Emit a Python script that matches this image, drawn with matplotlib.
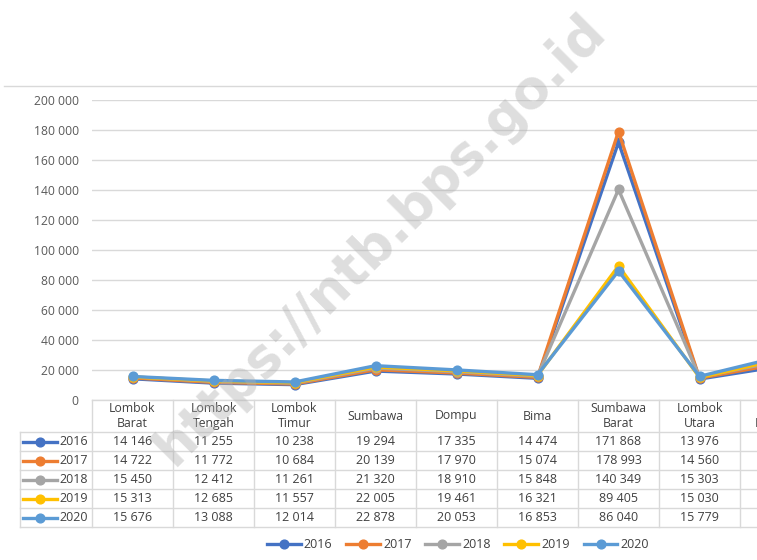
import matplotlib
matplotlib.use("Agg")
import matplotlib.pyplot as plt
import matplotlib.transforms as mtransforms
from matplotlib.lines import Line2D

# Data
regions = ["Lombok\nBarat", "Lombok\nTengah", "Lombok\nTimur", "Sumbawa", "Dompu",
           "Bima", "Sumbawa\nBarat", "Lombok\nUtara", "Kota\nMataram"]
years = ["2016", "2017", "2018", "2019", "2020"]
v2016 = [14146, 11255, 10238, 19294, 17335, 14474, 171868, 13976, 22500]
v2017 = [14722, 11772, 10684, 20139, 17970, 15074, 178993, 14560, 24300]
v2018 = [15450, 12412, 11261, 21320, 18910, 15848, 140349, 15303, 26000]
v2019 = [15313, 12685, 11557, 22005, 19461, 16321, 89405, 15030, 27200]
v2020 = [15676, 13088, 12014, 22878, 20053, 16853, 86040, 15779, 28900]
series = [v2016, v2017, v2018, v2019, v2020]
colors = ["#4472C4", "#ED7D31", "#A5A5A5", "#FFC000", "#5B9BD5"]
yticks = [0, 20000, 40000, 60000, 80000, 100000, 120000, 140000, 160000, 180000, 200000]

W, H = 757, 560
font = "Open Sans"
grid_col = "#d9d9d9"
txt_col = "#404040"

fig = plt.figure(figsize=(W / 100, H / 100), dpi=100)
fig.patch.set_facecolor("white")

# Plot area (extends past the right edge, as in the source crop)
ax = fig.add_axes([92 / W, 1 - 400 / H, 9 * 81 / W, 300 / H])
ax.set_xlim(-0.5, len(regions) - 0.5)
ax.set_ylim(0, 200000)
ax.set_yticks(yticks)
ax.set_yticklabels([f"{v:,}".replace(",", " ") for v in yticks],
                   fontsize=8.7, color="#595959", fontfamily=font)
ax.tick_params(axis="y", length=0, pad=9.5)
ax.set_xticks([])
for s in ax.spines.values():
    s.set_visible(False)
ax.grid(axis="y", color=grid_col, lw=1)
ax.set_axisbelow(True)

x = list(range(len(regions)))
for i, (vals, c, yr) in enumerate(zip(series, colors, years)):
    ax.plot(x, vals, color=c, lw=2.4, marker="o", ms=6.3, label=yr, zorder=3 + i,
            clip_on=False)

# Data table under the plot
tr = mtransforms.blended_transform_factory(ax.transData, ax.transAxes)

def ay(py):
    return (400 - py) / 300

left_x = -0.5 - 72 / 81
row_lines = [432.3, 451.3, 470.3, 489.3, 508.3, 527.3]
ax.add_line(Line2D([-0.5, len(regions) - 0.5], [0, 0], transform=tr,
                   color=grid_col, lw=1, clip_on=False))
for py in row_lines:
    ax.add_line(Line2D([left_x, len(regions) - 0.5], [ay(py)] * 2, transform=tr,
                       color=grid_col, lw=1, clip_on=False))
for i in range(len(regions) + 1):
    ax.add_line(Line2D([i - 0.5] * 2, [0, ay(527.3)], transform=tr,
                       color=grid_col, lw=1, clip_on=False))
ax.add_line(Line2D([left_x] * 2, [ay(432.3), ay(527.3)], transform=tr,
                   color=grid_col, lw=1, clip_on=False))

for i, name in enumerate(regions):
    ax.text(i, ay(416), name, transform=tr, ha="center", va="center",
            fontsize=8.8, color=txt_col, fontfamily=font, linespacing=1.2,
            clip_on=False)

for r, (vals, c, yr) in enumerate(zip(series, colors, years)):
    cy = ay((row_lines[r] + row_lines[r + 1]) / 2)
    for i, v in enumerate(vals):
        ax.text(i, cy, f"{v:,}".replace(",", " "), transform=tr, ha="center",
                va="center", fontsize=9, color=txt_col, fontfamily=font)
    kx0 = -0.5 - 69 / 81
    kx1 = -0.5 - 35 / 81
    ax.add_line(Line2D([kx0, kx1], [cy, cy], transform=tr, color=c, lw=2.4,
                       clip_on=False))
    ax.add_line(Line2D([(kx0 + kx1) / 2], [cy], transform=tr, color=c, marker="o",
                       ms=6.3, clip_on=False))
    ax.text(-0.5 - 33 / 81, cy, yr, transform=tr, ha="left", va="center",
            fontsize=9, color=txt_col, fontfamily=font)

# Legend at the bottom
fig.legend(loc="center", bbox_to_anchor=(458 / W, 1 - 545 / H), ncol=5,
           frameon=False, handlelength=2.7, handletextpad=0.25,
           columnspacing=1.1, prop={"family": font, "size": 9},
           labelcolor=txt_col)

# Top border line of the chart area
fig.add_artist(Line2D([4 / W, 1], [1 - 86 / H] * 2, color=grid_col, lw=1))

# Watermark
fig.text(380 / W, 1 - 240 / H, "https://ntb.bps.go.id", rotation=45,
         rotation_mode="anchor", ha="center", va="center", fontsize=38,
         fontweight="bold", color="#b0b0b0", alpha=0.42, zorder=20,
         fontfamily="DejaVu Sans")

fig.savefig("out.png", dpi=100)
